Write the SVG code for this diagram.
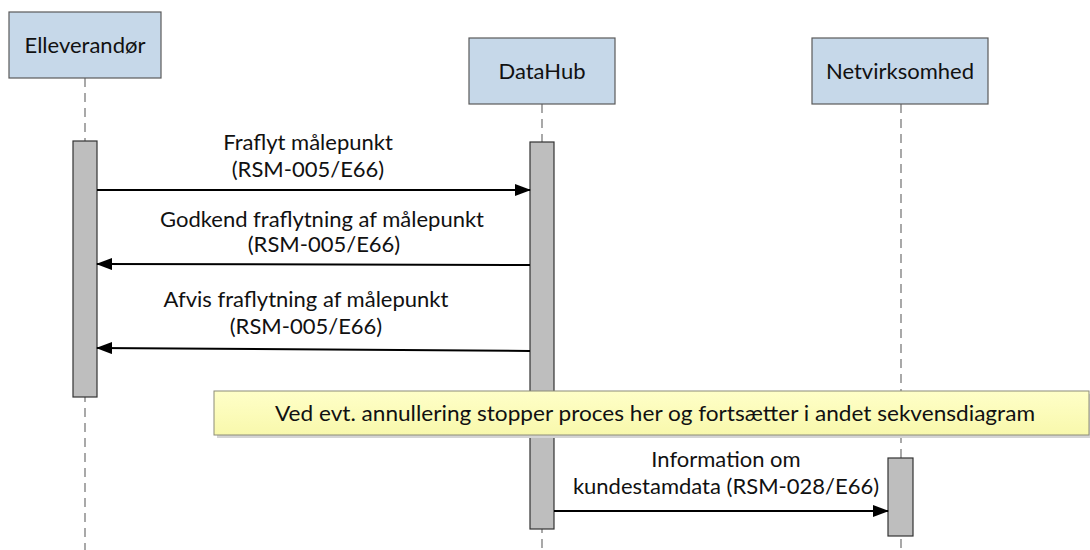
<svg xmlns="http://www.w3.org/2000/svg" width="1090" height="550" viewBox="0 0 1090 550">
<style>
.part{fill:#C6D8E9;stroke:#5A5A5A;stroke-width:1.2}
.life{stroke:#707070;stroke-width:1.2;stroke-dasharray:9,6;fill:none}
.act{fill:#BEBEBE;stroke:#333;stroke-width:1.2}
.msg{stroke:#000;stroke-width:2;fill:none}
text{font-family:Lato,"Liberation Sans",sans-serif;font-size:22px;fill:#111;text-anchor:middle}
.note{fill:url(#ng);stroke:#8C8C78;stroke-width:1}
</style>
<defs>
<marker id="ah" markerWidth="16" markerHeight="12" refX="15" refY="6" orient="auto" markerUnits="userSpaceOnUse">
<path d="M0,0 L16,6 L0,12 Z" fill="#000"/>
</marker>
<linearGradient id="ng" x1="0" y1="0" x2="0" y2="1">
<stop offset="0" stop-color="#FFFFC8"/>
<stop offset="1" stop-color="#F8F8AC"/>
</linearGradient>
</defs>
<rect width="1090" height="550" fill="#fff"/>
<g id="lifelines">
<line class="life" x1="85" y1="78" x2="85" y2="550"/>
<line class="life" x1="542" y1="104" x2="542" y2="550"/>
<line class="life" x1="901" y1="104" x2="901" y2="550"/>
</g>
<g id="elleverandor">
<rect class="part" x="9" y="12" width="152" height="66"/>
<text x="85" y="53">Elleverandør</text>
</g>
<g id="datahub">
<rect class="part" x="469" y="38" width="146" height="66"/>
<text x="542" y="79">DataHub</text>
</g>
<g id="netvirksomhed">
<rect class="part" x="812" y="38" width="176" height="66"/>
<text x="900" y="79">Netvirksomhed</text>
</g>
<g id="activations">
<rect class="act" x="73" y="141" width="24" height="256"/>
<rect class="act" x="530" y="142" width="24" height="387"/>
<rect class="act" x="888" y="458" width="25" height="78"/>
</g>
<g id="connectors">
<line class="msg" x1="97" y1="190" x2="530" y2="190" marker-end="url(#ah)"/>
<line class="msg" x1="530" y1="265" x2="97" y2="264" marker-end="url(#ah)"/>
<line class="msg" x1="530" y1="351" x2="97" y2="348" marker-end="url(#ah)"/>
<line class="msg" x1="554" y1="511" x2="888" y2="511" marker-end="url(#ah)"/>
</g>
<g id="labels">
<text x="308" y="150">Fraflyt målepunkt</text>
<text x="308" y="177">(RSM-005/E66)</text>
<text x="322" y="227">Godkend fraflytning af målepunkt</text>
<text x="324" y="252">(RSM-005/E66)</text>
<text x="306" y="307">Afvis fraflytning af målepunkt</text>
<text x="306" y="334">(RSM-005/E66)</text>
<text x="726" y="467">Information om</text>
<text x="726" y="494">kundestamdata (RSM-028/E66)</text>
</g>
<g id="note">
<rect x="217" y="394" width="875" height="44" fill="#D4D4D4"/>
<rect class="note" x="214" y="391" width="875" height="44"/>
<text x="655" y="421" textLength="760" lengthAdjust="spacingAndGlyphs">Ved evt. annullering stopper proces her og fortsætter i andet sekvensdiagram</text>
</g>
</svg>
